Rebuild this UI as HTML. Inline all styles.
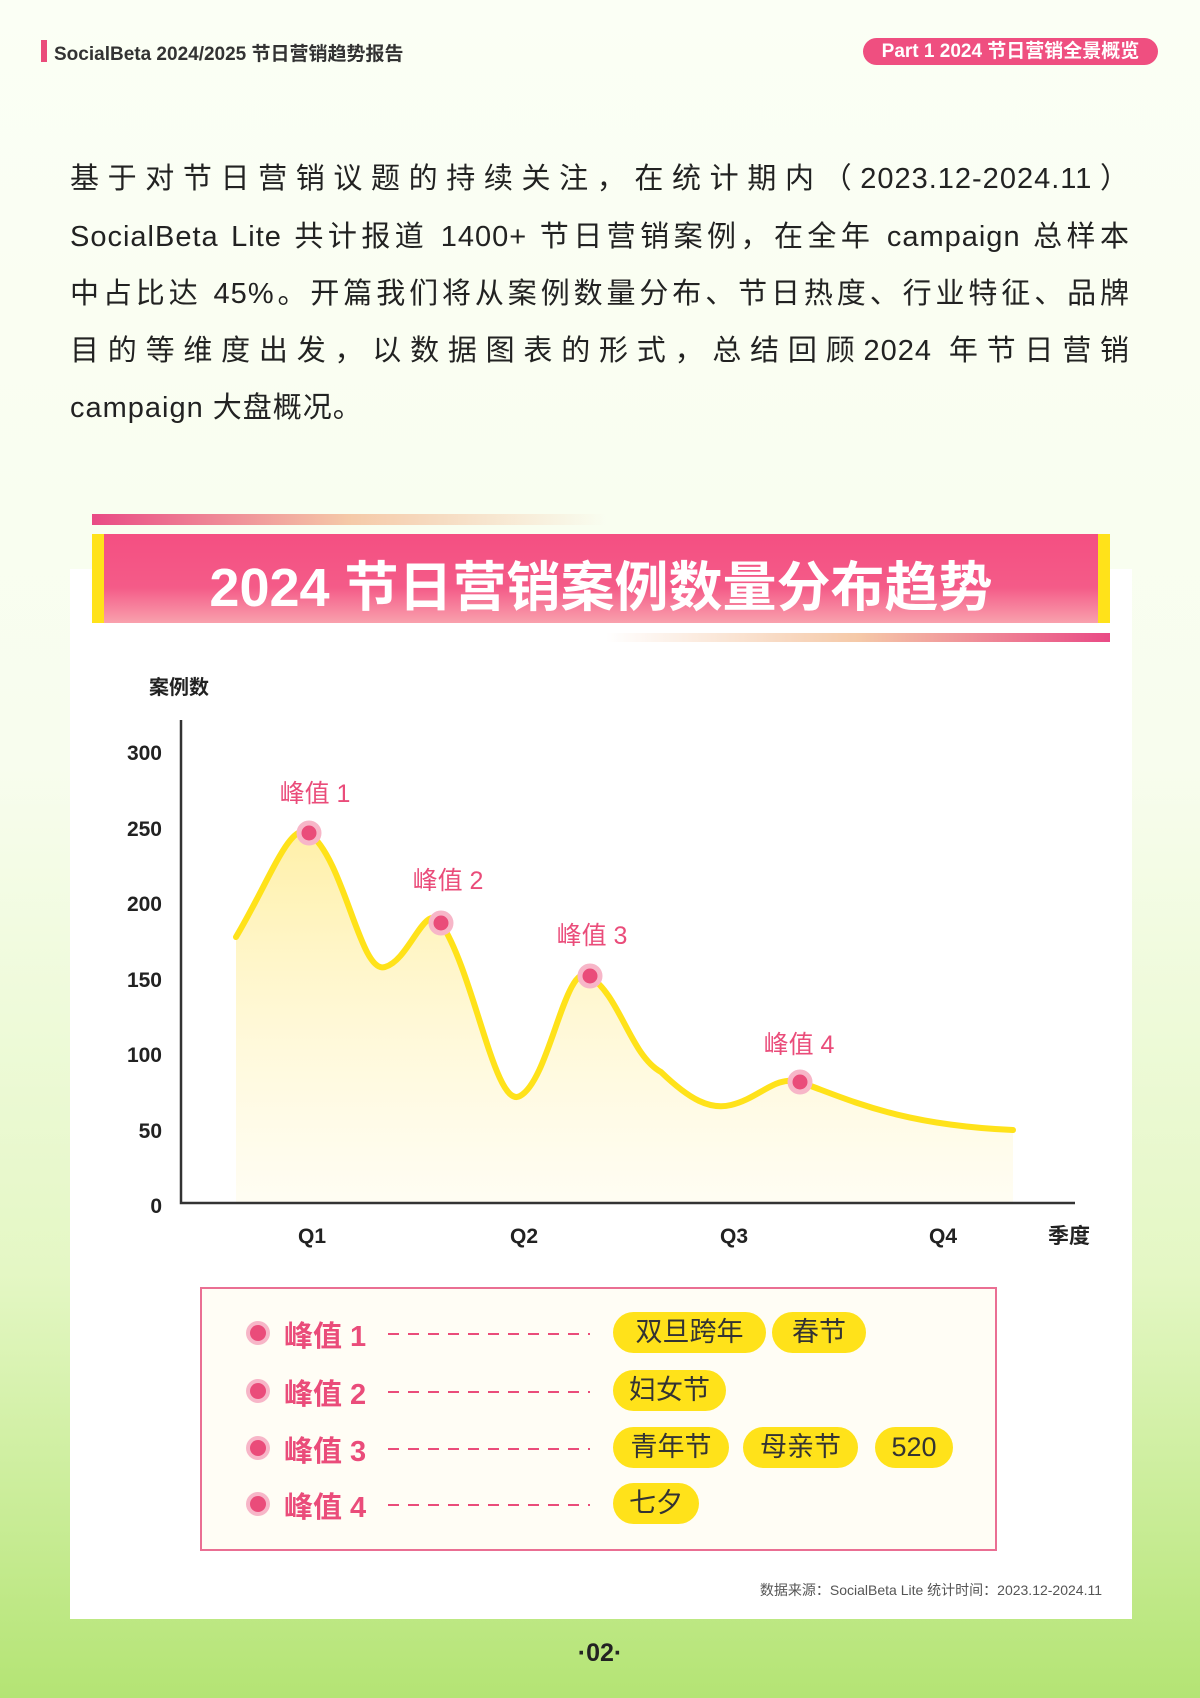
<!DOCTYPE html>
<html><head><meta charset="utf-8"><style>
*{margin:0;padding:0;box-sizing:border-box}
body{width:1200px;height:1698px;position:relative;overflow:hidden;font-family:"Liberation Sans","Noto Sans CJK SC",sans-serif;background:linear-gradient(180deg,#fbfff5 0%,#f8fdee 45%,#e4f7c4 75%,#b4e474 100%)}
.a{position:absolute}
.p{left:70px;width:1060px;font-size:29px;color:#222;text-align:justify;text-align-last:justify;white-space:nowrap;letter-spacing:1px}
.pill{position:absolute;height:41px;border-radius:21px;background:#ffe21a;font-size:27px;color:#333;text-align:center;line-height:41px}
.lab{position:absolute;left:284px;font-size:29px;color:#ea4c7a;font-weight:bold}
.dash{position:absolute;left:388px;width:202px;height:2px;background:repeating-linear-gradient(90deg,#ea4c7a 0 11px,transparent 11px 20px)}
.dot{position:absolute;left:250px;width:16px;height:16px;border-radius:50%;background:#ea4c7a;box-shadow:0 0 0 4px #f7b6c8}
</style></head><body>
<div class="a" style="left:41px;top:40px;width:6px;height:22px;background:#ea4c7a"></div>
<div class="a" style="left:54px;top:39px;font-size:19px;font-weight:bold;color:#333">SocialBeta 2024/2025 节日营销趋势报告</div>
<div class="a" style="left:863px;top:38px;width:295px;height:27px;border-radius:14px;background:#ef4f80;color:#fff;font-size:19px;font-weight:bold;text-align:center;line-height:27px">Part 1 2024 节日营销全景概览</div>

<div class="a p" style="top:155px">基于对节日营销议题的持续关注，在统计期内（2023.12-2024.11）</div>
<div class="a p" style="top:213px">SocialBeta Lite 共计报道 1400+ 节日营销案例，在全年 campaign 总样本</div>
<div class="a p" style="top:270px">中占比达 45%。开篇我们将从案例数量分布、节日热度、行业特征、品牌</div>
<div class="a p" style="top:327px">目的等维度出发，以数据图表的形式，总结回顾2024 年节日营销</div>
<div class="a" style="left:70px;top:384px;font-size:29px;color:#222;letter-spacing:1px">campaign 大盘概况。</div>

<div class="a" style="left:70px;top:569px;width:1062px;height:1050px;background:#fff"></div>
<div class="a" style="left:92px;top:514px;width:514px;height:11px;background:linear-gradient(90deg,#e94a85,#f5c9a8 50%,rgba(255,245,210,0))"></div>
<div class="a" style="left:606px;top:633px;width:504px;height:9px;background:linear-gradient(90deg,rgba(255,245,210,0),#f5c9a8 50%,#e94a85)"></div>
<div class="a" style="left:92px;top:534px;width:1018px;height:89px;background:linear-gradient(180deg,#f44f82 0%,#f45b88 60%,#f9a1ad 100%);border-left:12px solid #ffe21a;border-right:12px solid #ffe21a"></div>
<div class="a" style="left:92px;top:543px;width:1018px;text-align:center;font-size:54px;font-weight:bold;color:#fff">2024 节日营销案例数量分布趋势</div>

<svg class="a" style="left:0;top:0" width="1200" height="1698">
<defs><linearGradient id="g" x1="0" y1="0" x2="0" y2="1"><stop offset="0" stop-color="#fff0a8"/><stop offset="1" stop-color="#fffbe6" stop-opacity="0.5"/></linearGradient></defs>
<text x="149" y="694" font-size="20" font-weight="bold" fill="#222" font-family="Liberation Sans,Noto Sans CJK SC,sans-serif">案例数</text>
<g font-size="21" font-weight="bold" fill="#222" text-anchor="end" font-family="Liberation Sans,sans-serif">
<text x="162" y="760">300</text><text x="162" y="836">250</text><text x="162" y="911">200</text><text x="162" y="987">150</text><text x="162" y="1062">100</text><text x="162" y="1138">50</text><text x="162" y="1213">0</text></g>
<path d="M236,937 C270,880 290,820 309,833 C345,860 360,975 385,967 C410,960 425,900 441,923 C475,975 495,1110 520,1096 C550,1080 565,960 589,976 C620,995 630,1055 661,1072 C690,1100 710,1110 731,1105 C760,1098 775,1075 800,1082 C850,1100 900,1125 1013,1130 L1013,1202 L236,1202 Z" fill="url(#g)"/>
<path d="M236,937 C270,880 290,820 309,833 C345,860 360,975 385,967 C410,960 425,900 441,923 C475,975 495,1110 520,1096 C550,1080 565,960 589,976 C620,995 630,1055 661,1072 C690,1100 710,1110 731,1105 C760,1098 775,1075 800,1082 C850,1100 900,1125 1013,1130" fill="none" stroke="#ffe21a" stroke-width="6" stroke-linecap="round"/>
<path d="M181,720 V1203 H1075" fill="none" stroke="#333" stroke-width="2.5"/>
<g font-size="21" font-weight="bold" fill="#222" text-anchor="middle" font-family="Liberation Sans,Noto Sans CJK SC,sans-serif">
<text x="312" y="1243">Q1</text><text x="524" y="1243">Q2</text><text x="734" y="1243">Q3</text><text x="943" y="1243">Q4</text><text x="1069" y="1243">季度</text></g>
<g fill="#ea4c7a" stroke="#f7b6c8" stroke-width="5">
<circle cx="309" cy="833" r="10"/><circle cx="441" cy="923" r="10"/><circle cx="590" cy="976" r="10"/><circle cx="800" cy="1082" r="10"/></g>
<g font-size="25" fill="#ea4c7a" text-anchor="middle" font-family="Liberation Sans,Noto Sans CJK SC,sans-serif">
<text x="315" y="802">峰值 1</text><text x="448" y="889">峰值 2</text><text x="592" y="944">峰值 3</text><text x="799" y="1053">峰值 4</text></g>
</svg>

<div class="a" style="left:200px;top:1287px;width:797px;height:264px;border:2px solid #ea6f93;background:#fffdf5"></div>
<div class="dot" style="top:1325px"></div><div class="lab" style="top:1313px">峰值 1</div><div class="dash" style="top:1333px"></div>
<div class="pill" style="left:613px;top:1312px;width:153px">双旦跨年</div><div class="pill" style="left:772px;top:1312px;width:94px">春节</div>
<div class="dot" style="top:1383px"></div><div class="lab" style="top:1371px">峰值 2</div><div class="dash" style="top:1391px"></div>
<div class="pill" style="left:613px;top:1370px;width:113px">妇女节</div>
<div class="dot" style="top:1440px"></div><div class="lab" style="top:1428px">峰值 3</div><div class="dash" style="top:1448px"></div>
<div class="pill" style="left:613px;top:1427px;width:116px">青年节</div><div class="pill" style="left:743px;top:1427px;width:115px">母亲节</div><div class="pill" style="left:875px;top:1427px;width:78px">520</div>
<div class="dot" style="top:1496px"></div><div class="lab" style="top:1484px">峰值 4</div><div class="dash" style="top:1504px"></div>
<div class="pill" style="left:613px;top:1483px;width:86px">七夕</div>

<div class="a" style="right:98px;top:1580px;font-size:14px;color:#555">数据来源：SocialBeta Lite 统计时间：2023.12-2024.11</div>
<div class="a" style="left:0;width:1200px;top:1639px;text-align:center;font-size:25px;font-weight:bold;color:#222">·02·</div>
</body></html>
